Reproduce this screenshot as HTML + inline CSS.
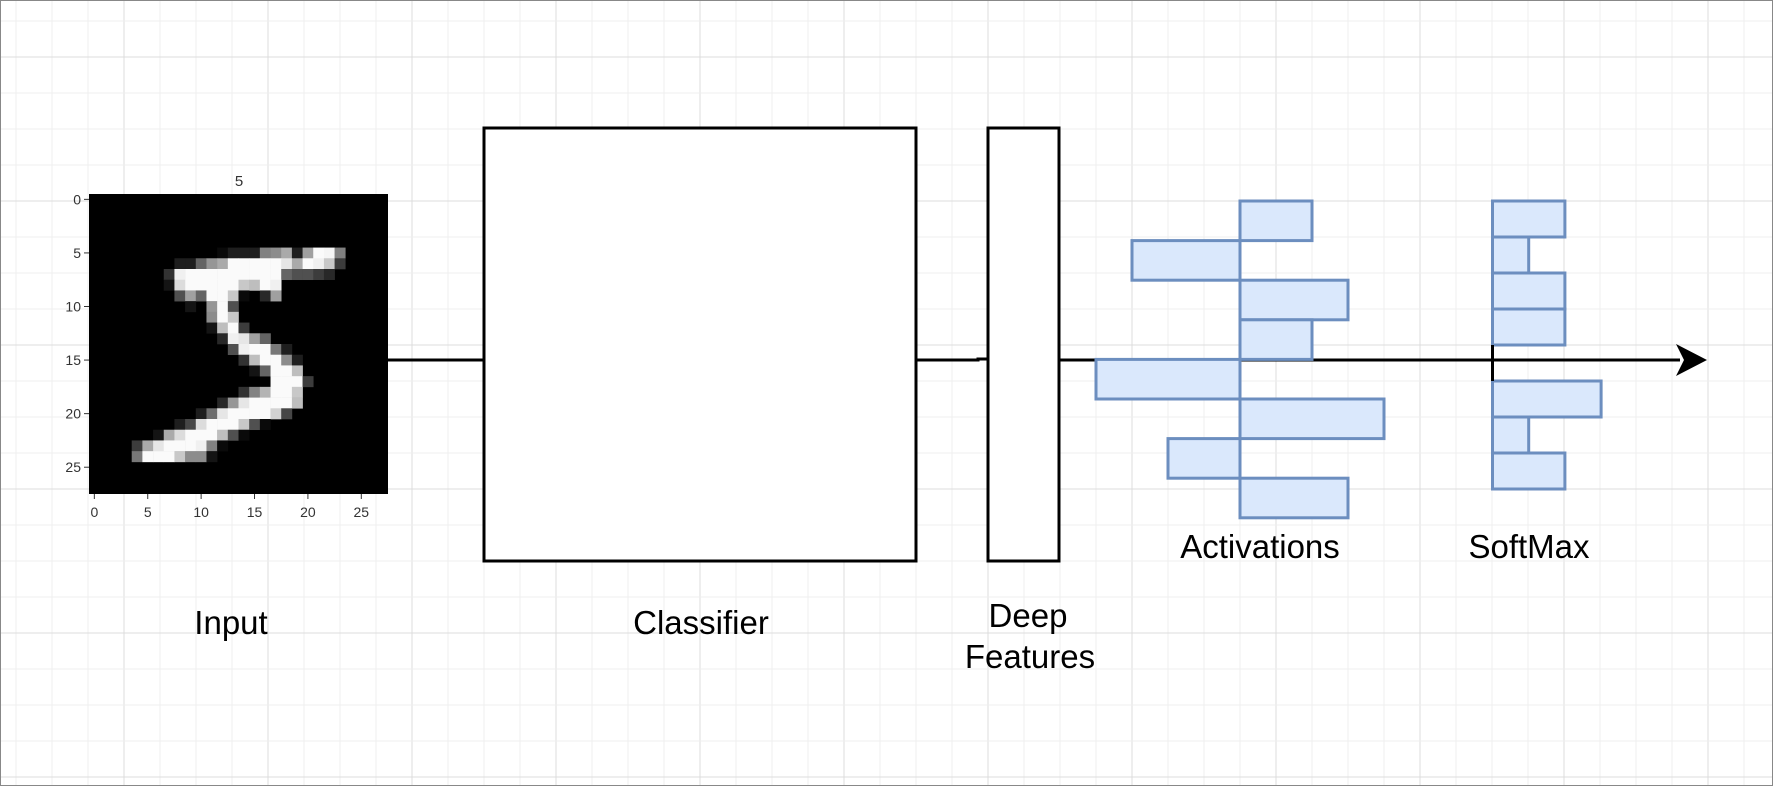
<!DOCTYPE html>
<html><head><meta charset="utf-8"><style>
html,body{margin:0;padding:0;background:#fff;}
svg{display:block;font-family:"Liberation Sans",sans-serif;}
</style></head><body>
<svg id="s" width="1773" height="786" viewBox="0 0 1773 786">
<g id="grid"></g>
<rect x="0.5" y="0.5" width="1772" height="785" fill="none" stroke="#888" stroke-width="1"/>
<g id="mnist">
<text x="239" y="186" font-size="15" fill="#333" text-anchor="middle">5</text>
<rect x="89" y="194" width="299" height="300" fill="#000"/>
<g id="px"></g>
<g id="ticks" font-size="14" fill="#333"></g>
</g>
<line x1="388" y1="360" x2="485" y2="360" stroke="#000" stroke-width="3"/>
<rect x="484" y="128" width="432" height="433" fill="#fff" stroke="#000" stroke-width="3"/>
<path d="M916 360 L978 360 L978 359 L988 359" fill="none" stroke="#000" stroke-width="3"/>
<rect x="988" y="128" width="71" height="433" fill="#fff" stroke="#000" stroke-width="3"/>
<line x1="1059" y1="360" x2="1680" y2="360" stroke="#000" stroke-width="3"/>
<path d="M1676 344 L1707 360 L1676 376 L1684 360 Z" fill="#000"/>
<g id="act"></g>
<g id="sm"></g>
<line x1="1492.5" y1="345" x2="1492.5" y2="381" stroke="#000" stroke-width="3"/>
<g font-size="33" fill="#000" text-anchor="middle">
<text x="1260" y="558">Activations</text>
<text x="1529" y="558">SoftMax</text>
<text x="231" y="634">Input</text>
<text x="701" y="634">Classifier</text>
<text x="1028" y="627">Deep</text>
<text x="1030" y="668">Features</text>
</g>
</svg>
<script>
const activationValues = [1, -1.5, 1.5, 1, -2, 2, -1, 1.5];
const softmaxValues = [2, 1, 2, 2, 0, 3, 1, 2];
const tickLabels = [0, 5, 10, 15, 20, 25];
const digitRows = {
5:{12:10,13:30,14:30,15:30,16:128,17:140,18:170,19:30,20:160,21:250,22:245,23:128},
6:{8:30,9:30,10:100,11:150,12:170,13:250,14:250,15:250,16:250,17:250,18:230,19:170,20:250,21:240,22:200,23:60},
7:{7:50,8:240,9:250,10:250,11:250,12:250,13:250,14:250,15:250,16:250,17:250,18:100,19:80,20:80,21:60,22:40},
8:{7:20,8:220,9:250,10:250,11:250,12:250,13:250,14:200,15:190,16:250,17:240},
9:{8:80,9:160,10:100,11:250,12:250,13:200,14:10,16:40,17:160},
10:{9:20,11:150,12:250,13:80},
11:{11:140,12:250,13:200},
12:{11:20,12:190,13:250,14:60},
13:{12:40,13:240,14:230,15:160,16:100},
14:{13:80,14:240,15:250,16:250,17:120,18:30},
15:{14:50,15:190,16:250,17:250,18:140,19:30},
16:{15:20,16:100,17:250,18:250,19:190},
17:{17:250,18:250,19:250,20:60},
18:{14:50,15:130,16:180,17:250,18:250,19:200},
19:{12:40,13:150,14:230,15:250,16:250,17:250,18:250,19:190},
20:{10:30,11:110,12:230,13:250,14:250,15:250,16:250,17:210,18:70},
21:{8:30,9:70,10:220,11:250,12:250,13:250,14:200,15:80,16:10},
22:{6:20,7:170,8:220,9:250,10:250,11:250,12:190,13:80,14:10},
23:{4:60,5:170,6:230,7:250,8:250,9:250,10:240,11:130,12:10},
24:{4:120,5:250,6:250,7:250,8:200,9:140,10:140,11:20}
};
const NS="http://www.w3.org/2000/svg";
function mk(t,a,p){const e=document.createElementNS(NS,t);for(const k in a)e.setAttribute(k,a[k]);p.appendChild(e);return e;}
const g=document.getElementById('grid');
for(let x=16;x<1773;x+=36){const major=((x-124)/36)%4===0;
const l=mk('line',{x1:x,y1:0,x2:x,y2:786,stroke:major?'#dcdcdc':'#efefef','stroke-width':1},g);

}
for(let y=21;y<786;y+=36){const major=((y-57)/36)%4===0;
const l=mk('line',{x1:0,y1:y,x2:1773,y2:y,stroke:major?'#dcdcdc':'#efefef','stroke-width':1},g);

}
const px=document.getElementById('px');const cs=299/28;
const imgX=v=>89+v*cs, imgY=v=>194+v*(300/28);
for(const r in digitRows){for(const c in digitRows[r]){const v=digitRows[r][c];
const e=mk('rect',{x:imgX(+c),y:imgY(+r),width:cs+0.3,height:300/28+0.3,fill:`rgb(${v},${v},${v})`},px);

}}
const tk=document.getElementById('ticks');
tickLabels.forEach(t=>{const cx=imgX(t+0.5),cy=imgY(t+0.5);
mk('line',{x1:cx,y1:494,x2:cx,y2:499,stroke:'#333'},tk);
const a=mk('text',{x:cx,y:517,'text-anchor':'middle'},tk);a.textContent=t;


mk('line',{x1:84,y1:cy,x2:89,y2:cy,stroke:'#333'},tk);
const b=mk('text',{x:81,y:cy+5,'text-anchor':'end'},tk);b.textContent=t;

});
const act=document.getElementById('act');
const aX=v=>1240+v*72, aY=i=>201+i*39.6;
activationValues.forEach((v,i)=>{const x0=Math.min(aX(0),aX(v)),w=Math.abs(aX(v)-aX(0));
const e=mk('rect',{x:x0,y:aY(i),width:w,height:39.6,fill:'#dae8fc',stroke:'#6c8ebf','stroke-width':3},act);

});
const sm=document.getElementById('sm');
const sX=v=>1492.5+v*36.2, sY=i=>201+i*36;
softmaxValues.forEach((v,i)=>{if(v<=0)return;
const e=mk('rect',{x:sX(0),y:sY(i),width:sX(v)-sX(0),height:36,fill:'#dae8fc',stroke:'#6c8ebf','stroke-width':3},sm);

});
</script>
</body></html>
